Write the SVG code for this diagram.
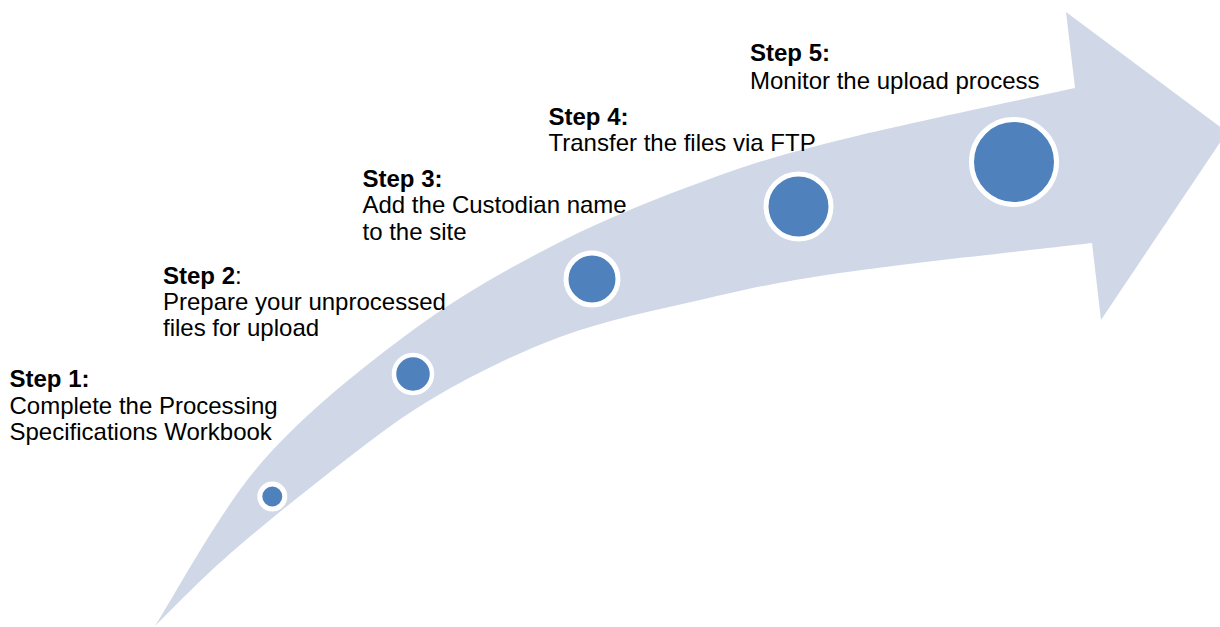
<svg xmlns="http://www.w3.org/2000/svg" width="1220" height="627" viewBox="0 0 1220 627">
<style>
.arrow{fill:#D0D8E8;stroke:none}
.dot{fill:#4F81BD;stroke:#FFFFFF}
text{font-family:"Liberation Sans",Arial,sans-serif;font-size:24px;fill:#000000}
.b{font-weight:bold}
</style>
<rect width="1220" height="627" fill="#FFFFFF"/>
<g id="arrow">
<path class="arrow" d="M155,626 C172.8,598.7 219,511.3 262,462 C305,412.7 363.3,366.7 413,330 C462.7,293.3 511,267 560,242 C609,217 660.3,197 707,180 C753.7,163 778.7,155.3 840,140 C901.3,124.7 1035.8,96.7 1075,88 L1066,12 L1227,132 L1101,320 L1092,243 C1050,248 905.3,263.5 840,273 C774.7,282.5 746.7,289.3 700,300 C653.3,310.7 605,320.3 560,337 C515,353.7 470,376.2 430,400 C390,423.8 354.5,453.3 320,480 C285.5,506.7 250.5,535.7 223,560 C195.5,584.3 166.3,615 155,626 Z"/>
</g>
<g id="connectors"></g>
<g id="step1">
<circle class="dot" cx="272.3" cy="496.5" r="12.5" stroke-width="5"/>
<text x="9.5" y="387" class="b">Step 1:</text>
<text x="9.5" y="413.5">Complete the Processing</text>
<text x="9.5" y="440">Specifications Workbook</text>
</g>
<g id="step2">
<circle class="dot" cx="413" cy="374" r="19" stroke-width="4.5"/>
<text x="163" y="283.5"><tspan class="b">Step 2</tspan>:</text>
<text x="163" y="309.5">Prepare your unprocessed</text>
<text x="163" y="335.5">files for upload</text>
</g>
<g id="step3">
<circle class="dot" cx="592" cy="279" r="26" stroke-width="5"/>
<text x="362.5" y="187" class="b">Step 3:</text>
<text x="362.5" y="213">Add the Custodian name</text>
<text x="362.5" y="239.5">to the site</text>
</g>
<g id="step4">
<circle class="dot" cx="798.5" cy="206.5" r="32.5" stroke-width="5"/>
<text x="548.5" y="124.5" class="b">Step 4:</text>
<text x="548.5" y="150.5">Transfer the files via FTP</text>
</g>
<g id="step5">
<circle class="dot" cx="1014" cy="162" r="42.5" stroke-width="5"/>
<text x="750" y="61" class="b">Step 5:</text>
<text x="750" y="88.5">Monitor the upload process</text>
</g>
</svg>
